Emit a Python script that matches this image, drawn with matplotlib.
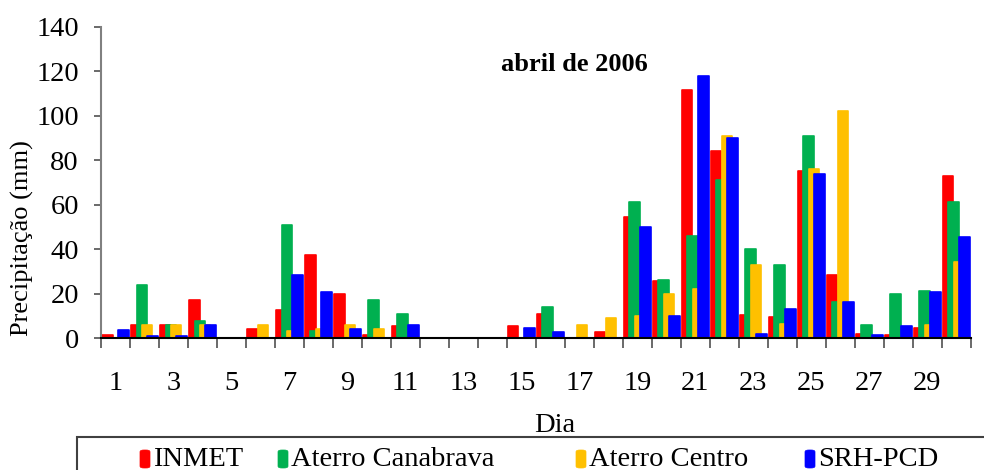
import numpy as np
import matplotlib
matplotlib.use('Agg')
from matplotlib import pyplot as plt
from matplotlib.patches import Rectangle, FancyBboxPatch

plt.rcParams['font.family'] = ['Liberation Serif', 'DejaVu Serif']

# Precipitação diária, abril de 2006 (mm)
dias = np.arange(1, 31)
inmet = [1.5, 6, 6, 17, 0, 4, 12.5, 37.5, 20, 1.5, 5.5, 0, 0, 0, 5.5,
         11, 0, 2.5, 54.5, 25.5, 111.5, 84, 10.5, 9.5, 75, 28.5, 2, 1.5, 4.5, 73]
canabrava = [0, 24, 6, 7.5, 0, 0, 51, 3, 0, 17, 11, 0, 0, 0, 0,
             14, 0, 0, 61, 26, 46, 71, 40, 33, 91, 16, 6, 20, 21, 61]
centro = [0, 6, 6, 6, 0, 6, 3, 4, 6, 4, 0, 0, 0, 0, 0,
          0, 6, 9, 10, 20, 22, 91, 33, 6.5, 76, 102, 0, 0, 6, 34]
srh = [3.5, 1, 1, 6, 0, 0, 28.5, 20.5, 4, 0, 6, 0, 0, 0, 4.5,
       2.5, 0, 0, 50, 10, 118, 90, 2, 13, 74, 16, 1.5, 5.5, 20.5, 45.5]

series = [inmet, canabrava, centro, srh]
nomes = ['INMET', 'Aterro Canabrava', 'Aterro Centro', 'SRH-PCD']
cores = ['#FF0000', '#00B050', '#FFC000', '#0000FF']

fs = 20.5
fig = plt.figure(figsize=(9.84, 4.70), dpi=100)
ax = fig.add_axes([101/984, 1 - 338/470, (970.7 - 101)/984, (338 - 27)/470])

w = 0.36     # largura da barra (em dias)
step = 0.187 # deslocamento entre séries
for i, (vals, cor) in enumerate(zip(series, cores)):
    off = (i - 1.5) * step
    v = np.array(vals, dtype=float)
    mask = v > 0
    ax.bar(dias[mask] + off, v[mask], width=w, color=cor, edgecolor=cor,
           linewidth=1.2, joinstyle='round', zorder=2 + i)

ax.set_xlim(0.5, 30.5)
ax.set_ylim(0, 140)
ax.set_yticks(np.arange(0, 141, 20))
ax.set_xticks(np.arange(1, 31, 2))
ax.set_xticks(np.arange(0.5, 31, 1), minor=True)
ax.tick_params(axis='x', which='major', length=0, pad=24, labelsize=fs)
ax.tick_params(axis='x', which='minor', length=7, width=1.2, color='#505050', direction='out')
ax.tick_params(axis='y', length=5, width=1.2, color='#505050', labelsize=fs, pad=11)

for s in ['top', 'right']:
    ax.spines[s].set_visible(False)
ax.spines['left'].set_color('#808080')
ax.spines['left'].set_linewidth(1.5)
ax.spines['bottom'].set_color('black')
ax.spines['bottom'].set_linewidth(1.5)
ax.spines['bottom'].set_zorder(10)

ax.text(16.83, 123, 'abril de 2006', fontsize=19, fontweight='bold', ha='center', va='center')

fig.text(22/984, 1 - 238/470, 'Precipitação (mm)', rotation=90, ha='center', va='center', fontsize=19)
fig.text(555/984, 1 - 425/470, 'Dia', ha='center', va='center', fontsize=fs)

# caixa da legenda (cortada na borda como no original)
fig.patches.append(Rectangle((77/984, -0.1), 1.0, 1 - 437/470 + 0.1, transform=fig.transFigure,
                             facecolor='white', edgecolor='#404040', linewidth=1.5, figure=fig))
xs = [140, 278, 576, 805]
for x0, nome, cor in zip(xs, nomes, cores):
    fig.patches.append(FancyBboxPatch((x0/984, 1 - 468/470), 10/984, 18/470,
                                      boxstyle='round,pad=0,rounding_size=0.004',
                                      transform=fig.transFigure, facecolor=cor, edgecolor=cor,
                                      linewidth=0.5, figure=fig))
    fig.text((x0 + 13)/984, 1 - 459/470, nome, ha='left', va='center', fontsize=fs)

fig.savefig('out.png', dpi=100)
